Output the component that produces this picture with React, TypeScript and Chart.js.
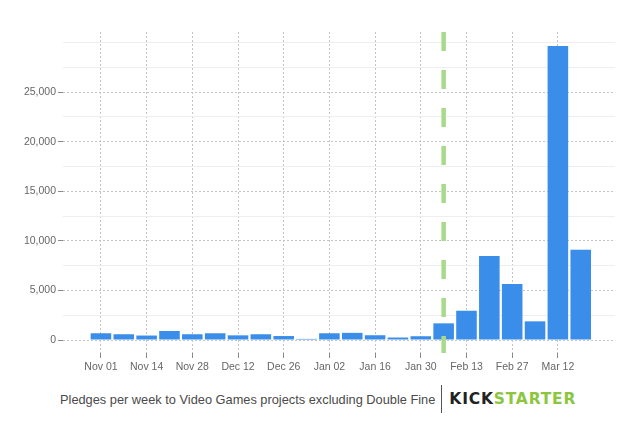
import { useEffect, useRef } from "react";
import Chart from "chart.js/auto";

// weekly pledges (USD), one bar per week starting Nov 01
const pledges = [
  680, 580, 450, 910, 580, 680, 470, 580, 400, 110, 680, 720, 480, 250, 380,
  1680, 2950, 8470, 5650, 1880, 29650, 9100,
];
// labels on every second week
const tickLabels = [
  "Nov 01", "Nov 14", "Nov 28", "Dec 12", "Dec 26", "Jan 02",
  "Jan 16", "Jan 30", "Feb 13", "Feb 27", "Mar 12",
];
const yMajor = [0, 5000, 10000, 15000, 20000, 25000];
const yMinor = [2500, 7500, 12500, 17500, 22500, 27500, 30000];
// week of the Double Fine launch
const launchWeek = 15;

const Y_MIN = -1310;
const Y_MAX = 31050;

export default function App() {
  const canvasRef = useRef<HTMLCanvasElement>(null);

  useEffect(() => {
    const ctx = canvasRef.current?.getContext("2d");
    if (!ctx) return;
    const isMajor = (v: number) => yMajor.includes(v);

    const chart = new Chart(ctx, {
      type: "bar",
      data: {
        datasets: [
          {
            type: "bar",
            data: pledges.map((v, i) => ({ x: i, y: v })),
            backgroundColor: "#3a8de8",
            borderWidth: 0,
            barPercentage: 0.9,
            categoryPercentage: 1,
            order: 2,
          },
          {
            type: "line",
            data: [
              { x: launchWeek, y: Y_MAX },
              { x: launchWeek, y: Y_MIN },
            ],
            borderColor: "#a9d98b",
            borderWidth: 4.5,
            borderDash: [19, 19],
            borderCapStyle: "butt",
            pointRadius: 0,
            fill: false,
            order: 1,
          },
        ] as any,
      },
      options: {
        animation: false,
        responsive: true,
        maintainAspectRatio: false,
        layout: { padding: { top: 32, right: 25, left: 0, bottom: 0 } },
        plugins: {
          legend: { display: false },
          tooltip: { enabled: false },
        },
        scales: {
          x: {
            type: "linear",
            min: -1.66,
            max: 22.5,
            offset: false,
            afterBuildTicks: (s: any) => {
              s.ticks = tickLabels.map((_, k) => ({ value: k * 2 }));
            },
            afterFit: (s: any) => {
              s.height = 32;
            },
            ticks: {
              autoSkip: false,
              maxRotation: 0,
              padding: 3,
              color: "#666",
              font: { family: "'Liberation Sans', Arial, sans-serif", size: 10.5 },
              callback: (v: any) => tickLabels[Math.round(Number(v) / 2)] ?? "",
            },
            grid: {
              offset: false,
              color: "#c4c4c4",
              tickColor: "#888",
              tickLength: 5,
              tickBorderDash: [],
            },
            border: { display: false, dash: [2, 2] },
          },
          y: {
            type: "linear",
            min: Y_MIN,
            max: Y_MAX,
            afterBuildTicks: (s: any) => {
              s.ticks = [...yMajor, ...yMinor]
                .sort((a, b) => a - b)
                .map((v) => ({ value: v }));
            },
            afterFit: (s: any) => {
              s.width = 63;
            },
            ticks: {
              padding: 2,
              color: "#666",
              font: { family: "'Liberation Sans', Arial, sans-serif", size: 10.5 },
              callback: (v: any) =>
                isMajor(Number(v)) ? Number(v).toLocaleString("en-US") : "",
            },
            grid: {
              color: (c: any) => (isMajor(c.tick?.value) ? "#c4c4c4" : "#eeeeee"),
              tickColor: (c: any) => (isMajor(c.tick?.value) ? "#888" : "rgba(0,0,0,0)"),
              tickLength: 5,
              tickBorderDash: [],
            },
            border: {
              display: false,
              dash: (c: any) => (isMajor(c.tick?.value) ? [2, 2] : []),
            },
          },
        },
      },
    });

    return () => chart.destroy();
  }, []);

  return (
    <div
      style={{
        position: "fixed",
        inset: 0,
        width: 640,
        height: 425,
        background: "#fff",
        fontFamily: "'Liberation Sans', Arial, sans-serif",
      }}
    >
      <div style={{ position: "absolute", left: 0, top: 0, width: 640, height: 385 }}>
        <canvas ref={canvasRef} />
      </div>
      <div
        style={{
          position: "absolute",
          left: 60,
          top: 385,
          height: 28,
          display: "flex",
          alignItems: "center",
          whiteSpace: "nowrap",
        }}
      >
        <span style={{ fontSize: 12.8, color: "#4a4a4a" }}>
          Pledges per week to Video Games projects excluding Double Fine
        </span>
        <span
          style={{
            display: "inline-block",
            width: 1,
            height: 28,
            background: "#555",
            margin: "0 7px 0 6px",
          }}
        />
        <span
          style={{
            fontFamily: "'DejaVu Sans', sans-serif",
            fontWeight: 700,
            fontSize: 15.5,
            letterSpacing: 0.8,
          }}
        >
          <span style={{ color: "#222" }}>KICK</span>
          <span style={{ color: "#8cc63f" }}>STARTER</span>
        </span>
      </div>
    </div>
  );
}
